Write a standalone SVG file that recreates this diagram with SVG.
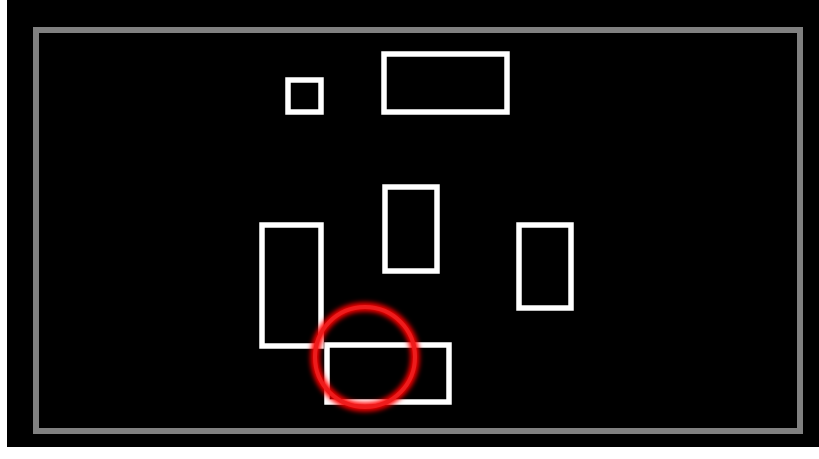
<svg xmlns="http://www.w3.org/2000/svg" width="819" height="459" viewBox="0 0 819 459">
  <defs>
    <style>
      .box { fill: none; stroke: #ffffff; stroke-width: 5.5; }
      .frame { fill: none; stroke: #808080; stroke-width: 6; }
    </style>
    <filter id="glow" x="-30%" y="-30%" width="160%" height="160%">
      <feGaussianBlur stdDeviation="2.5"/>
    </filter>
  </defs>
  <rect x="0" y="0" width="819" height="459" fill="#ffffff"/>
  <rect x="7" y="0" width="812" height="447" fill="#000000"/>
  <rect class="frame" x="36" y="30" width="764" height="401"/>
  <g id="node-small"><rect class="box" x="288" y="80" width="33" height="32"/></g>
  <g id="node-wide"><rect class="box" x="384" y="54" width="123" height="58"/></g>
  <g id="node-middle"><rect class="box" x="385" y="187" width="52" height="84"/></g>
  <g id="node-left"><rect class="box" x="262" y="225" width="59" height="121"/></g>
  <g id="node-right"><rect class="box" x="519" y="225" width="52" height="83"/></g>
  <g id="node-bottom"><rect class="box" x="327" y="345" width="122" height="57"/></g>
  <g id="connectors"></g>
  <g id="highlight">
    <circle cx="365" cy="357" r="50" fill="none" stroke="#ff0000" stroke-width="9" filter="url(#glow)"/>
    <circle cx="365" cy="357" r="50" fill="none" stroke="#ee1c1c" stroke-width="4"/>
  </g>
</svg>
